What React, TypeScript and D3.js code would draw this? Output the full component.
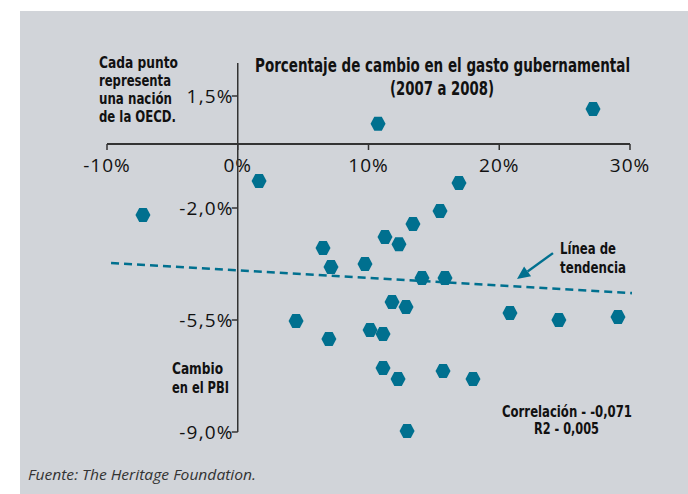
import React from 'react';
import * as d3 from 'd3';

// % change in government spending (2007 to 2008), one value per OECD nation
const spendChange = [
  -7.25, 1.63, 10.73, 27.17, 16.92, 15.47, 13.4, 11.26, 12.33, 6.52, 7.13, 9.73, 14.09, 15.85,
  11.8, 12.87, 4.46, 20.82, 24.56, 29.08, 10.12, 11.11, 6.97, 11.11, 12.26, 15.7, 17.99, 12.95,
];
// % change in GDP, same order
const gdpChange = [
  -2.22, -1.16, 0.63, 1.09, -1.22, -2.09, -2.5, -2.91, -3.13, -3.25, -3.84, -3.75, -4.19, -4.19,
  -4.94, -5.09, -5.53, -5.28, -5.5, -5.41, -5.81, -5.94, -6.09, -7.0, -7.34, -7.09, -7.34, -8.97,
];

const xTicks = [-10, 0, 10, 20, 30];
const xTickLabels = ['-10%', '0%', '10%', '20%', '30%'];
const yTicks = [1.5, -2, -5.5, -9];
const yTickLabels = ['1,5%', '-2,0%', '-5,5%', '-9,0%'];

// trend line endpoints [x, y]
const trendX = [-9.69, 30.15];
const trendY = [-3.72, -4.66];
// annotation arrow tail -> tip
const arrowX = [24.11, 21.36];
const arrowY = [-3.41, -4.22];

const BLUE = '#00708f';
const AXIS = '#333';
const CONDENSED = "'Liberation Sans Narrow', 'DejaVu Sans Condensed', 'Open Sans', sans-serif";
const SANS = "'Open Sans', 'Noto Sans', sans-serif";

export default function App() {
  const width = 688;
  const height = 494;

  const x = d3.scaleLinear().domain([-10, 30]).range([107, 630]);
  const y = d3.scaleLinear().domain([1.5, -9]).range([96, 432]);

  const hexR = 7.5;
  const hexH = 7;
  const hex = d3.line()([
    [hexR, 0], [hexR / 2, hexH], [-hexR / 2, hexH], [-hexR, 0], [-hexR / 2, -hexH], [hexR / 2, -hexH],
  ]) + 'Z';

  const points = spendChange.map((v, i) => ({ sx: v, gy: gdpChange[i] }));

  const ax0 = x(arrowX[0]), ay0 = y(arrowY[0]);
  const ax1 = x(arrowX[1]), ay1 = y(arrowY[1]);
  const ang = Math.atan2(ay1 - ay0, ax1 - ax0);
  const headLen = 13, headW = 6;
  const bx = ax1 - headLen * Math.cos(ang), by = ay1 - headLen * Math.sin(ang);
  const head = [
    [ax1, ay1],
    [bx + headW * Math.sin(ang), by - headW * Math.cos(ang)],
    [bx - headW * Math.sin(ang), by + headW * Math.cos(ang)],
  ];

  const yTop = y(2.53);

  return (
    <div style={{ position: 'absolute', left: 0, top: 0 }}>
      <svg width={width} height={height} style={{ display: 'block' }}>
        <rect x={0} y={0} width={width} height={height} fill="#fff" />
        <rect x={20} y={11} width={width - 20} height={height - 11} fill="#d1d4d9" />

        {/* x axis */}
        <line x1={x(-10)} x2={x(30)} y1={y(0)} y2={y(0)} stroke={AXIS} strokeWidth={2} />
        {xTicks.map((t, i) => (
          <g key={t}>
            <line x1={x(t)} x2={x(t)} y1={y(0)} y2={y(0) + 6} stroke={AXIS} strokeWidth={1.5} />
            <text x={x(t)} y={y(0) + 28} textAnchor="middle" fontFamily={SANS} fontSize={19}
              letterSpacing={1} fill="#111">{xTickLabels[i]}</text>
          </g>
        ))}

        {/* y axis */}
        <line x1={x(0)} x2={x(0)} y1={yTop} y2={y(-9)} stroke={AXIS} strokeWidth={1.5} />
        {yTicks.map((t, i) => (
          <g key={t}>
            <line x1={x(0) - 6} x2={x(0)} y1={y(t)} y2={y(t)} stroke={AXIS} strokeWidth={1.5} />
            <text x={x(0) - 4} y={y(t) + 7} textAnchor="end" fontFamily={SANS} fontSize={19}
              letterSpacing={1.2} fill="#111">{yTickLabels[i]}</text>
          </g>
        ))}

        {/* trend line */}
        <line x1={x(trendX[0])} y1={y(trendY[0])} x2={x(trendX[1])} y2={y(trendY[1])}
          stroke={BLUE} strokeWidth={2.6} strokeDasharray="8,5" />

        {/* points */}
        {points.map((d, i) => (
          <path key={i} d={hex} transform={`translate(${x(d.sx)},${y(d.gy)})`} fill={BLUE} />
        ))}

        {/* arrow */}
        <line x1={ax0} y1={ay0} x2={bx} y2={by} stroke={BLUE} strokeWidth={2.4} />
        <polygon points={head.map(p => p.join(',')).join(' ')} fill={BLUE} />

        {/* titles and notes */}
        <g fontFamily={CONDENSED} fontWeight="bold" fill="#111">
          <text x={442.5} y={72} textAnchor="middle" fontSize={19} textLength={375}
            lengthAdjust="spacingAndGlyphs">Porcentaje de cambio en el gasto gubernamental</text>
          <text x={442} y={95} textAnchor="middle" fontSize={19} textLength={104}
            lengthAdjust="spacingAndGlyphs">(2007 a 2008)</text>

          <text x={99} y={68} fontSize={16} textLength={79} lengthAdjust="spacingAndGlyphs">Cada punto</text>
          <text x={99} y={86} fontSize={16} textLength={72} lengthAdjust="spacingAndGlyphs">representa</text>
          <text x={99} y={104} fontSize={16} textLength={73} lengthAdjust="spacingAndGlyphs">una nación</text>
          <text x={99} y={122} fontSize={16} textLength={77} lengthAdjust="spacingAndGlyphs">de la OECD.</text>

          <text x={560} y={254} fontSize={16} textLength={56} lengthAdjust="spacingAndGlyphs">Línea de</text>
          <text x={560} y={273} fontSize={16} textLength={66} lengthAdjust="spacingAndGlyphs">tendencia</text>

          <text x={172} y={374} fontSize={16} textLength={51} lengthAdjust="spacingAndGlyphs">Cambio</text>
          <text x={172} y={393} fontSize={16} textLength={57} lengthAdjust="spacingAndGlyphs">en el PBI</text>

          <text x={567} y={417} textAnchor="middle" fontSize={15} textLength={130}
            lengthAdjust="spacingAndGlyphs">Correlación - -0,071</text>
          <text x={566.5} y={434} textAnchor="middle" fontSize={15} textLength={65}
            lengthAdjust="spacingAndGlyphs">R2 - 0,005</text>
        </g>

        <text x={28} y={480} fontFamily={SANS} fontStyle="italic" fontSize={15} fill="#333"
          textLength={228} lengthAdjust="spacingAndGlyphs">Fuente: The Heritage Foundation.</text>
      </svg>
    </div>
  );
}
